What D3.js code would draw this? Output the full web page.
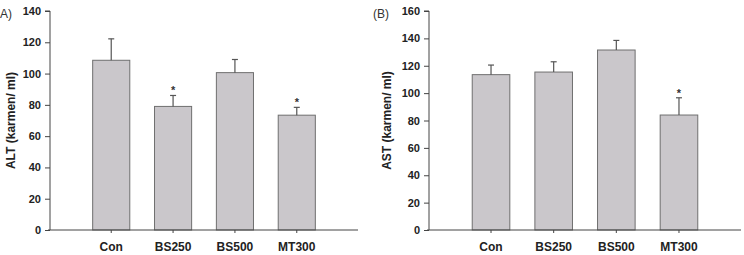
<!DOCTYPE html>
<html>
<head>
<meta charset="utf-8">
<script src="https://cdn.jsdelivr.net/npm/d3@7"></script>
<style>
  body { margin: 0; background: #fff; }
  text { font-family: Arial, "Liberation Sans", sans-serif; }
</style>
</head>
<body>
<script>
// groups, same for both panels
let groups = ["Con", "BS250", "BS500", "MT300"];

// panel A: ALT
let altMean = [108.5, 79, 100.6, 73.4];
let altErr  = [13.7, 7, 8.4, 5];
let altStar = [false, true, false, true];
let altTicks = [0, 20, 40, 60, 80, 100, 120, 140];

// panel B: AST
let astMean = [113.5, 115.4, 131.5, 84];
let astErr  = [7, 7.5, 7, 12.6];
let astStar = [false, false, false, true];
let astTicks = [0, 20, 40, 60, 80, 100, 120, 140, 160];

let W = 744, H = 255;
let yTop = 11, yBot = 230;

let svg = d3.select("body").append("svg")
  .attr("width", W)
  .attr("height", H);

function panel(opt) {
  let g = svg.append("g");

  let x = d3.scaleBand()
    .domain(groups)
    .range([opt.x0, opt.x1])
    .paddingInner(0.4)
    .paddingOuter(0.69);

  let y = d3.scaleLinear()
    .domain([0, opt.max])
    .range([yBot, yTop]);

  let data = groups.map((k, i) => ({ k: k, m: opt.mean[i], e: opt.err[i], s: opt.star[i] }));

  // bars
  g.selectAll("rect.bar").data(data).enter().append("rect")
    .attr("class", "bar")
    .attr("x", d => x(d.k))
    .attr("y", d => y(d.m))
    .attr("width", x.bandwidth())
    .attr("height", d => y(0) - y(d.m))
    .attr("fill", "#cac7cb")
    .attr("stroke", "#6f6f6f")
    .attr("stroke-width", 1);

  // error bars (upper only)
  let cx = d => x(d.k) + x.bandwidth() / 2;
  g.selectAll("line.err").data(data).enter().append("line")
    .attr("x1", cx).attr("x2", cx)
    .attr("y1", d => y(d.m)).attr("y2", d => y(d.m + d.e))
    .attr("stroke", "#555").attr("stroke-width", 1.2);
  g.selectAll("line.cap").data(data).enter().append("line")
    .attr("x1", d => cx(d) - 3).attr("x2", d => cx(d) + 3)
    .attr("y1", d => y(d.m + d.e)).attr("y2", d => y(d.m + d.e))
    .attr("stroke", "#555").attr("stroke-width", 1.2);

  // significance marks
  g.selectAll("text.star").data(data.filter(d => d.s)).enter().append("text")
    .attr("x", cx)
    .attr("y", d => y(d.m + d.e) - 1)
    .attr("text-anchor", "middle")
    .attr("font-size", 11)
    .attr("font-weight", "bold")
    .attr("fill", "#333")
    .text("*");

  // axes
  let yAxis = d3.axisLeft(y).tickValues(opt.ticks).tickSize(5).tickPadding(4);
  let gy = g.append("g")
    .attr("transform", "translate(" + opt.x0 + ",0)")
    .call(yAxis);
  gy.select(".domain").attr("d", "M-5," + yTop + "H0V" + yBot);
  gy.selectAll(".tick text").attr("font-size", 11);

  let xAxis = d3.axisBottom(x).tickSize(3).tickPadding(9);
  let gx = g.append("g")
    .attr("transform", "translate(0," + yBot + ")")
    .call(xAxis);
  gx.select(".domain").attr("d", "M" + (opt.x0 - 2) + ",0H" + opt.x1);
  gx.selectAll(".tick text").attr("font-size", 12);

  g.selectAll(".domain, .tick line").attr("stroke", "#444");
  g.selectAll(".tick text")
    .attr("font-weight", "bold")
    .attr("fill", "#222");

  // y title
  g.append("text")
    .attr("transform", "translate(" + opt.labX + "," + ((yTop + yBot) / 2) + ") rotate(-90)")
    .attr("text-anchor", "middle")
    .attr("font-size", 12)
    .attr("font-weight", "bold")
    .attr("fill", "#222")
    .text(opt.title);

  // panel letter
  g.append("text")
    .attr("x", opt.letterX)
    .attr("y", 18)
    .attr("font-size", 12)
    .attr("fill", "#333")
    .text(opt.letter);
}

panel({ x0: 50, x1: 358, max: 140, mean: altMean, err: altErr, star: altStar,
        ticks: altTicks, title: "ALT (karmen/ ml)", labX: 15, letter: "A)", letterX: 0 });
panel({ x0: 429, x1: 741, max: 160, mean: astMean, err: astErr, star: astStar,
        ticks: astTicks, title: "AST (karmen/ ml)", labX: 391, letter: "(B)", letterX: 373 });
</script>
</body>
</html>
